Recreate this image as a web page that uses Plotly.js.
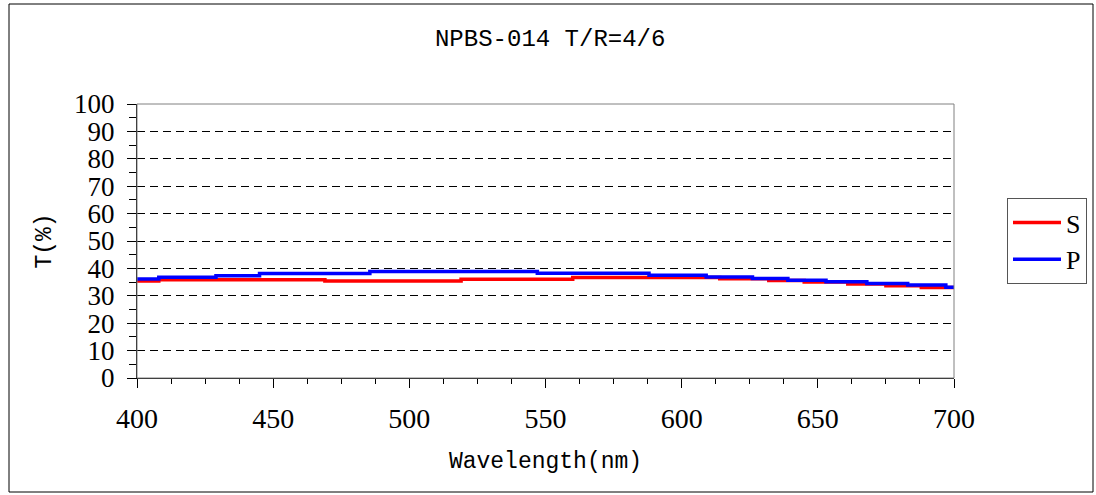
<!DOCTYPE html>
<html>
<head>
<meta charset="utf-8">
<script src="https://cdn.plot.ly/plotly-3.0.1.min.js"></script>
<style>html,body{margin:0;padding:0;background:#fff;}#chart{width:1096px;height:495px;}</style>
</head>
<body>
<div id="chart"></div>
<script>
// Data (step curves)
const wavelengthS = [400, 408, 469, 519, 560, 614, 632, 645, 661, 675, 688, 700];
const valuesS     = [35.4, 35.9, 35.4, 36.0, 36.7, 36.2, 35.6, 35.0, 34.3, 33.7, 33.0, 32.8];
const wavelengthP = [400, 408, 429, 445, 485.5, 547, 588, 609, 626, 639, 653, 668, 683, 697, 700];
const valuesP     = [36.1, 36.8, 37.3, 38.1, 38.9, 38.2, 37.5, 36.9, 36.3, 35.7, 35.1, 34.5, 33.9, 33.1, 33.1];
const xTicks = [400, 450, 500, 550, 600, 650, 700];
const yTicks = [0, 10, 20, 30, 40, 50, 60, 70, 80, 90, 100];
const seriesNames = ['S', 'P'];
const titleText = 'NPBS-014 T/R=4/6';
const xTitle = 'Wavelength(nm)';
const yTitle = 'T(%)';

const serif = 'Liberation Serif, Times New Roman, serif';
const mono = 'Liberation Mono, DejaVu Sans Mono, monospace';

const traces = [
  {x: wavelengthS, y: valuesS, name: seriesNames[0], type: 'scatter', mode: 'lines',
   line: {color: '#ff0000', width: 3.5, shape: 'hv'}, xaxis: 'x', yaxis: 'y'},
  {x: wavelengthP, y: valuesP, name: seriesNames[1], type: 'scatter', mode: 'lines',
   line: {color: '#0000ff', width: 3.5, shape: 'hv'}, xaxis: 'x', yaxis: 'y2'}
];

// plot area in px: x 137..954, y 104..378
const L = 137, R = 954, T = 104, B = 378;
const px2x = p => (p - L) / (R - L);
const py2y = p => (B - p) / (B - T);

const layout = {
  width: 1096, height: 495,
  margin: {l: L, r: 1096 - R, t: T, b: 495 - B, pad: 0, autoexpand: false},
  paper_bgcolor: '#ffffff', plot_bgcolor: '#ffffff',
  showlegend: true,
  title: {text: titleText, font: {family: mono, size: 24, color: '#000'},
          x: 0.502, xref: 'container', xanchor: 'center', y: 1 - 38/495, yref: 'container', yanchor: 'middle'},
  xaxis: {
    range: [400, 700], tickvals: xTicks, ticktext: xTicks.map(String),
    showline: true, linecolor: '#000', linewidth: 1, mirror: false,
    ticks: 'outside', ticklen: 9, tickcolor: '#000', tickwidth: 1,
    minor: {dtick: 12.5, tick0: 400, ticks: 'outside', ticklen: 5, tickcolor: '#000', showgrid: false},
    showgrid: false, zeroline: false,
    tickfont: {family: serif, size: 28, color: '#000'},
    ticklabelstandoff: 6,
    title: {text: xTitle, font: {family: mono, size: 23, color: '#000'}, standoff: 19},
    fixedrange: true
  },
  yaxis: {
    range: [0, 100], tickvals: yTicks, ticktext: yTicks.map(String),
    showline: true, linecolor: '#000', linewidth: 1,
    ticks: 'outside', ticklen: 9, tickcolor: '#000', tickwidth: 1,
    minor: {dtick: 5, tick0: 0, ticks: 'outside', ticklen: 7, tickcolor: '#000', showgrid: false},
    showgrid: true, gridcolor: '#000', gridwidth: 1, griddash: '8px,5px',
    zeroline: false,
    tickfont: {family: serif, size: 27, color: '#000'},
    ticklabelstandoff: 7,
    title: {text: yTitle, font: {family: mono, size: 23, color: '#000'}, standoff: 16},
    fixedrange: true
  },
  yaxis2: {
    range: [0, 100], overlaying: 'y', side: 'left', anchor: 'x',
    tickvals: yTicks, showticklabels: false,
    ticks: 'inside', ticklen: 8, tickcolor: '#000', tickwidth: 1,
    showgrid: false, zeroline: false, showline: false, fixedrange: true
  },
  legend: {
    x: px2x(1007), xanchor: 'left', y: py2y(198), yanchor: 'top',
    bgcolor: '#ffffff', bordercolor: '#555', borderwidth: 1,
    font: {family: serif, size: 26, color: '#000'},
    traceorder: 'normal', itemwidth: 48
  },
  shapes: [
    {type: 'rect', xref: 'paper', yref: 'paper', x0: 0, x1: 1, y0: 0, y1: 1,
     line: {color: '#808080', width: 1}, fillcolor: 'rgba(0,0,0,0)', layer: 'above'},
    {type: 'rect', xref: 'paper', yref: 'paper', x0: px2x(9), x1: px2x(1093), y0: py2y(492), y1: py2y(4),
     line: {color: '#000', width: 1}, fillcolor: 'rgba(0,0,0,0)', layer: 'below'}
  ]
};

Plotly.newPlot('chart', traces, layout, {displayModeBar: false, staticPlot: true});
</script>
</body>
</html>
